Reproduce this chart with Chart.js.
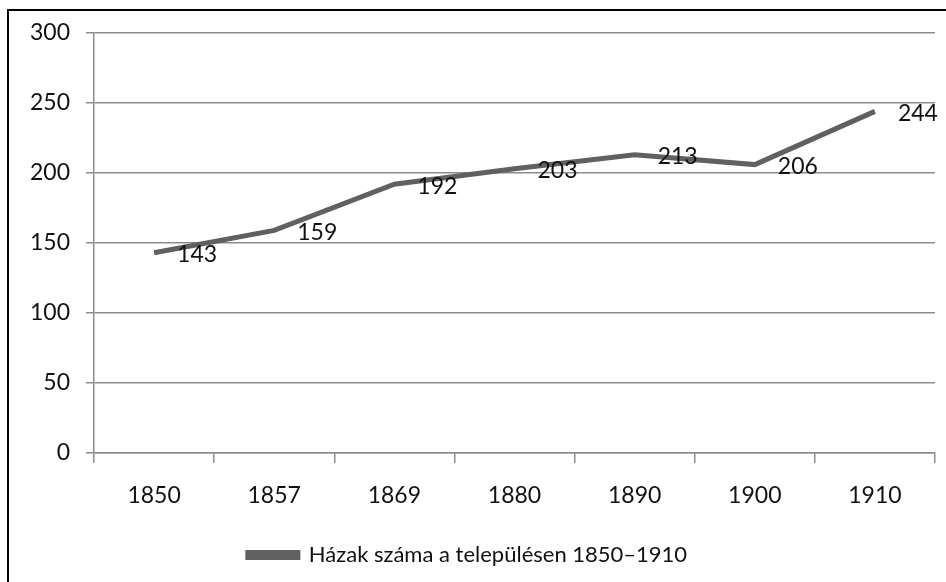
<!DOCTYPE html>
<html>
<head>
<meta charset="utf-8">
<script src="https://cdn.jsdelivr.net/npm/chart.js@4"></script>
<style>
  html, body { margin: 0; padding: 0; background: #fff; }
  #wrap { width: 946px; height: 582px; position: relative; }
</style>
</head>
<body>
<div id="wrap"><canvas id="chart"></canvas></div>
<script>
const years = ['1850', '1857', '1869', '1880', '1890', '1900', '1910'];
const houses = [143, 159, 192, 203, 213, 206, 244];
const seriesName = 'Házak száma a településen 1850–1910';

const FONT = 'Lato, "Noto Sans", sans-serif';
const LINE = '#606060';
const GRID = '#8c8c8c';

// outer frame and value labels
const framePlugin = {
    id: 'frame',
    beforeDraw(chart) {
        const c = chart.ctx;
        c.save();
        c.fillStyle = '#fff';
        c.fillRect(0, 0, chart.width, chart.height);
        c.strokeStyle = '#000';
        c.lineWidth = 2;
        c.strokeRect(8, 10, 1000, 1000);
        c.restore();
    },
    afterDatasetsDraw(chart) {
        const c = chart.ctx;
        const meta = chart.getDatasetMeta(0);
        c.save();
        c.font = '23px ' + FONT;
        c.fillStyle = '#111';
        c.textAlign = 'left';
        c.textBaseline = 'middle';
        meta.data.forEach((pt, i) => {
            c.fillText(String(houses[i]), pt.x + 23, pt.y + 2);
        });
        c.restore();
    }
};

new Chart(document.getElementById('chart'), {
    type: 'line',
    data: {
        labels: years,
        datasets: [{
            label: seriesName,
            data: houses,
            borderColor: LINE,
            backgroundColor: LINE,
            borderWidth: 5,
            pointRadius: 0,
            tension: 0
        }]
    },
    options: {
        responsive: true,
        maintainAspectRatio: false,
        animation: false,
        layout: { padding: { left: 0, top: 33, right: 11, bottom: 6 } },
        plugins: {
            legend: {
                position: 'bottom',
                labels: {
                    boxWidth: 50,
                    boxHeight: 5,
                    padding: 10,
                    color: '#111',
                    font: { family: FONT, size: 22 }
                }
            },
            tooltip: { enabled: false }
        },
        scales: {
            x: {
                offset: true,
                afterFit(scale) { scale.height = 81; },
                grid: {
                    offset: true,
                    drawOnChartArea: false,
                    drawTicks: true,
                    tickLength: 10,
                    color: GRID,
                    lineWidth: 1.5
                },
                border: { color: GRID, width: 1.5 },
                ticks: {
                    color: '#111',
                    padding: 19,
                    maxRotation: 0,
                    font: { family: FONT, size: 23 }
                }
            },
            y: {
                min: 0,
                max: 300,
                afterFit(scale) { scale.width = 94; },
                grid: {
                    color: GRID,
                    lineWidth: 1.5,
                    tickLength: 8
                },
                border: { color: GRID, width: 1.5 },
                ticks: {
                    stepSize: 50,
                    color: '#111',
                    padding: 16,
                    font: { family: FONT, size: 23 }
                }
            }
        }
    },
    plugins: [framePlugin]
});
</script>
</body>
</html>
